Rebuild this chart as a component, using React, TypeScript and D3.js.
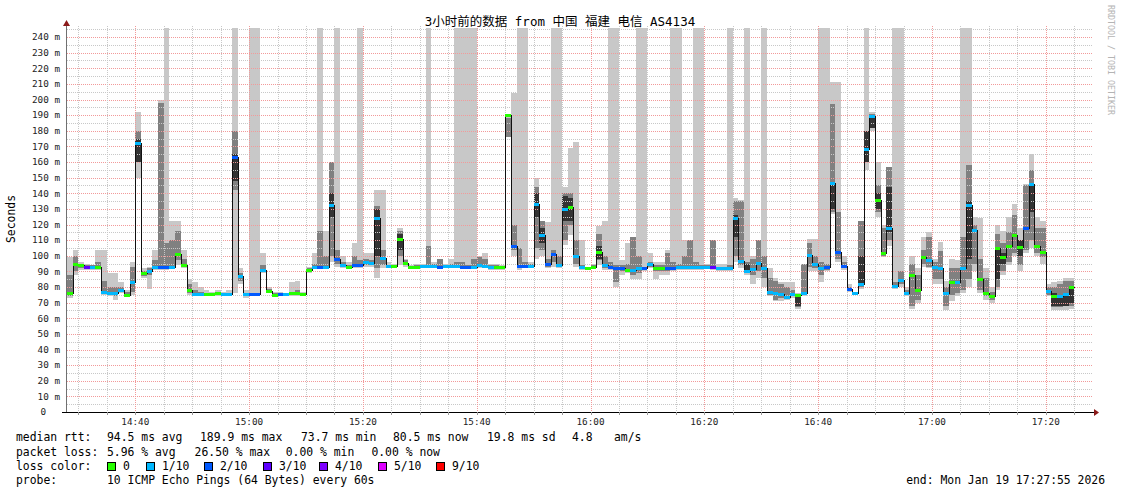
import React, { useEffect, useRef } from 'react';
import * as d3 from 'd3';

// one sample per minute, first sample at 14:28
const START = new Date(2026, 0, 19, 14, 28, 0);
const END = new Date(2026, 0, 19, 17, 28, 18);

// median rtt in ms
const medianRtt = [
  76, 95, 94, 93, 93, 93, 77, 76, 76, 78,
  75, 83, 172, 89, 90, 93, 93, 93, 93, 101,
  94, 78, 75.5, 75.5, 75.5, 75.5, 76, 75.5, 75.5, 163,
  87, 75.5, 75.5, 75.5, 91, 77.5, 75, 75.5, 75.5, 76,
  76, 75.5, 91, 93, 93, 93, 132.5, 97.7, 94, 93,
  94, 94, 96, 95.5, 124.4, 98.3, 93.4, 93.4, 110.5, 95.6,
  93, 93, 93.4, 93.4, 93.4, 93, 93.4, 93.4, 93.4, 93,
  93, 93, 93.8, 93.6, 93, 92.6, 92.6, 190, 106, 93.4,
  93.4, 93.4, 133, 113.2, 94.7, 101, 94.3, 129.7, 131.4, 100,
  92.6, 92.4, 93, 102.6, 94, 93, 92, 92, 91, 91,
  92, 92, 94.7, 92.4, 92, 92, 92, 93, 93, 93,
  93, 93, 93, 93, 92, 92, 92, 124, 96.6, 90.2,
  91.5, 95.6, 92.4, 77, 76, 75.5, 73.8, 75.5, 74.9, 76.4,
  100.5, 94.7, 92, 93, 146.8, 102.6, 93.4, 78.9, 76, 81.7,
  168.5, 189.4, 135.7, 102, 117.5, 80.8, 84.5, 76.4, 87.7, 78,
  99.4, 97.3, 93, 92.4, 76.4, 83.4, 83.4, 92.4, 132.7, 116.5,
  85, 76.4, 74.4, 105.2, 99, 106.5, 113.3, 105.8, 117.5, 146,
  106.5, 102.2, 77.6, 74.4, 74.2, 75.3, 80.2,
];

// lost pings out of 10
const lossCount = [
  0, 0, 0, 3, 1, 0, 1, 1, 1, 1,
  0, 1, 1, 0, 1, 1, 2, 2, 1, 0,
  0, 0, 1, 1, 0, 0, 0, 1, 1, 2,
  1, 1, 2, 2, 1, 0, 0, 2, 1, 0,
  0, 0, 0, 1, 2, 1, 1, 2, 1, 0,
  2, 2, 1, 1, 1, 1, 1, 0, 0, 0,
  0, 0, 1, 1, 1, 2, 1, 1, 1, 2,
  2, 1, 1, 1, 1, 0, 0, 0, 2, 2,
  2, 1, 1, 1, 2, 2, 1, 1, 0, 1,
  1, 0, 0, 0, 1, 2, 2, 2, 0, 1,
  1, 2, 1, 0, 0, 2, 2, 1, 1, 1,
  1, 1, 1, 3, 1, 1, 1, 1, 1, 1,
  1, 1, 1, 1, 1, 1, 1, 1, 0, 1,
  1, 1, 1, 2, 1, 2, 2, 2, 1, 1,
  1, 1, 0, 0, 1, 1, 1, 1, 0, 0,
  0, 1, 1, 1, 1, 0, 1, 1, 1, 1,
  0, 0, 0, 0, 0, 0, 0, 0, 2, 1,
  0, 0, 1, 0, 1, 1, 0,
];

// slowest / fastest ping (outer smoke)
const smokeHi = [
  99, 104, 96, 95, 94, 104, 104, 89, 89, 83,
  78, 96, 192, 92, 93, 104, 200, 250, 122, 122,
  104, 85, 83, 80, 78, 77, 78, 77, 78, 250,
  92, 78, 250, 250, 102, 80, 77, 77, 76, 83,
  84, 77, 93, 102, 250, 116, 160, 250, 100, 96,
  108, 250, 102, 102, 142, 142, 96, 95, 118, 98,
  94, 95, 95, 250, 96, 98, 95, 98, 250, 250,
  250, 250, 100, 102, 95, 95, 94, 191, 204, 250,
  250, 96, 150, 122, 121.5, 250, 250, 144, 169, 173,
  110, 93, 95, 119, 122, 250, 250, 97, 108, 112,
  250, 250, 102, 96, 96, 104, 250, 250, 110, 110,
  250, 250, 95, 110, 95, 95, 250, 137, 136, 250,
  100, 110, 250, 92, 86, 83, 83, 83, 76, 95,
  110.5, 110.5, 250, 250, 211, 211, 100, 82, 77, 122,
  250, 192, 160, 120, 157, 250, 250, 80, 100, 92,
  112, 115, 98, 109, 84, 98, 97, 250, 250, 125,
  124, 92, 80, 120, 116, 125, 133, 118, 146, 165,
  125, 122, 82, 83, 84, 86, 86,
];
const smokeLo = [
  73, 88, 91, 91, 91, 91, 75, 74, 72, 76,
  74, 75, 150, 86, 79, 91, 91, 91, 92, 94,
  92, 75, 74, 74, 74, 74, 74, 74, 74, 76,
  82, 73, 74, 74, 89, 76, 74, 74, 74, 74,
  74, 74, 89, 92, 92, 92, 96, 93, 92, 92,
  92, 92, 93, 93, 86, 92, 92, 92, 94, 93,
  92, 92, 92, 92, 92, 92, 92, 92, 92, 92,
  92, 92, 92, 92, 91, 91, 91, 176, 100, 91,
  92, 92, 98, 100, 92, 93, 92, 107, 113, 93,
  91, 91, 92, 94, 91, 91, 80, 88, 89, 85,
  85, 90, 92, 85, 88, 88, 90, 91, 91, 91,
  91, 91, 92, 91, 90, 90, 90, 96, 92, 88,
  82, 86, 80, 74, 71, 71, 72, 73, 66, 74,
  90, 90, 83, 90, 127, 96, 91, 77, 75, 79,
  155, 180, 125, 99, 106, 79, 80, 74, 66, 70,
  93, 92, 82, 82, 65, 71, 74, 76, 80, 90,
  76, 72, 70, 78, 88, 94, 100, 90, 102, 105,
  100, 95, 74, 65, 65, 65, 66,
];

// inner smoke band
const midHi = [
  88, 100, 95, 94, 94, 96, 84, 80, 80, 80,
  77, 93, 180, 90, 92, 97, 198, 108, 110, 116,
  98, 82, 78, 77, 76, 76, 77, 76, 76, 180,
  89, 76, 76, 76, 94, 79, 76, 76, 76, 77,
  78, 76, 92, 95, 116, 100, 160, 104, 96, 94,
  100, 97, 98, 97, 132, 104, 94, 94, 116, 97,
  93.5, 94, 94, 106, 95, 98, 94, 95, 96, 96,
  94, 98, 99, 98, 94, 94, 93, 188, 120, 105,
  96, 94.5, 144, 122, 98, 104, 100, 140, 140, 110,
  94, 93, 94, 114, 100, 96, 94, 94, 95, 112,
  100, 93, 96, 94, 94, 102, 96, 95, 100, 110,
  96, 94, 94, 110, 93, 93, 94, 135, 135, 96,
  98, 110, 100, 86, 84, 82, 80, 78, 75, 95,
  108, 100, 96, 95, 197, 128, 96, 80, 76.5, 122,
  178, 191, 145, 118, 157, 83, 90, 78, 95, 88,
  104, 112, 96, 103, 80, 92, 92, 112, 158, 120,
  98, 86, 77, 114, 108, 115, 126, 110, 145, 155,
  118, 118, 80, 80, 82, 84, 84,
];
const midLo = [
  74, 90, 92, 92, 92, 92, 76, 75, 74, 77,
  75, 77, 160, 87, 88, 92, 92, 92, 93, 97,
  93, 76, 75, 75, 75, 75, 75, 75, 75, 142,
  84, 74, 75, 75, 90, 77, 74, 75, 75, 75,
  75, 75, 90, 92, 92, 92, 100, 95, 93, 92,
  93, 93, 94, 94, 92, 94, 93, 93, 100, 94,
  92.5, 92.5, 93, 93, 93, 92.5, 93, 93, 93, 93,
  92.5, 92.5, 93, 93, 92, 92, 92, 176, 104, 92,
  93, 93, 105, 104, 93, 96, 93, 110, 120, 95,
  92, 92, 92.5, 97, 92, 92, 83, 90, 90, 88,
  89, 91, 93, 90, 90, 90, 91, 92, 92, 92,
  92, 92, 92.5, 92, 91, 91, 91, 100, 94, 89,
  88, 90, 86, 75, 72, 73, 73, 74, 67, 75,
  93, 92, 88, 91, 128, 98, 92, 78, 75.5, 80,
  160, 183, 128, 100, 110, 80, 82, 75, 68, 72,
  95, 93, 85, 85, 68, 75, 76, 78, 85, 95,
  78, 74, 72, 80, 90, 96, 102, 94, 104, 110,
  102, 99, 75, 67, 67, 68, 68,
];

// darkest smoke core: [minute index, hi, lo]
const coreBands: [number, number, number][] = [
  [12, 175, 160], [29, 165, 148], [46, 140, 125], [54, 130, 100], [58, 114, 104],
  [82, 140, 125], [83, 118, 108], [87, 138, 122], [88, 137, 122], [93, 106, 98],
  [117, 126, 112], [119, 95, 90], [128, 75, 68], [134, 146, 130], [139, 100, 82],
  [140, 180, 160], [141, 189, 182], [142, 140, 130], [144, 144, 115], [158, 135, 98],
  [163, 105, 85], [164, 102, 95], [167, 110, 100], [169, 146, 128], [173, 76, 68],
  [174, 75, 68], [175, 74, 68], [176, 80, 70],
];

const xTickLabels = ['14:40', '15:00', '15:20', '15:40', '16:00', '16:20', '16:40', '17:00', '17:20'];
const yTickValues = [0, 10, 20, 30, 40, 50, 60, 70, 80, 90, 100, 110, 120, 130, 140, 150, 160, 170, 180, 190, 200, 210, 220, 230, 240];

const lossColors = ['#26ff00', '#00b8ff', '#0059ff', '#5e00ff', '#7e00ff', '#dd00ff', '#dd00ff', '#dd00ff', '#dd00ff', '#ff0000', '#ff0000'];
const lossLegend = [
  { label: '0', color: '#26ff00' },
  { label: '1/10', color: '#00b8ff' },
  { label: '2/10', color: '#0059ff' },
  { label: '3/10', color: '#5e00ff' },
  { label: '4/10', color: '#7e00ff' },
  { label: '5/10', color: '#dd00ff' },
  { label: '9/10', color: '#ff0000' },
];

const rttStats = ['median rtt:', '94.5 ms avg', '189.9 ms max', '73.7 ms min', '80.5 ms now', '19.8 ms sd', '4.8', 'am/s'];
const lossStats = ['packet loss:', '5.96 % avg', '26.50 % max', '0.00 % min', '0.00 % now'];

const App: React.FC = () => {
  const svgRef = useRef<SVGSVGElement>(null);

  useEffect(() => {
    if (!svgRef.current) return;
    const svg = d3.select(svgRef.current);
    svg.selectAll('*').remove();

    const mono = "'DejaVu Sans Mono', 'Noto Sans CJK SC', monospace";
    const left = 67, right = 1093, bottom = 412, top = 28;

    const x = d3.scaleTime().domain([START, END]).range([left, right]);
    const y = d3.scaleLinear().domain([0, 240]).range([bottom, 37]);
    const yc = (v: number) => Math.max(top, y(v));
    const n = medianRtt.length;
    const steps = d3.range(n);
    const sx = (i: number) => Math.round(x(d3.timeMinute.offset(START, i)));

    svg.append('rect').attr('width', 1121).attr('height', 494).attr('fill', '#fff');

    // smoke
    const smoke = svg.append('g').attr('shape-rendering', 'crispEdges');
    const band = (hi: number[], lo: number[], fill: string) => {
      smoke.append('g').selectAll('rect').data(steps).join('rect')
        .attr('x', i => sx(i))
        .attr('width', i => sx(i + 1) - sx(i))
        .attr('y', i => yc(hi[i]))
        .attr('height', i => Math.max(1, y(lo[i]) - yc(hi[i])))
        .attr('fill', fill);
    };
    band(smokeHi, smokeLo, '#c8c8c8');
    band(midHi, midLo, '#808080');
    smoke.append('g').selectAll('rect').data(coreBands).join('rect')
      .attr('x', d => sx(d[0]))
      .attr('width', d => sx(d[0] + 1) - sx(d[0]))
      .attr('y', d => y(d[1]))
      .attr('height', d => y(d[2]) - y(d[1]))
      .attr('fill', '#333');

    // grid, drawn over the smoke
    const grid = svg.append('g').attr('shape-rendering', 'crispEdges').attr('stroke-dasharray', '1,1');
    d3.range(5, 250, 5).forEach(v => {
      const yy = Math.round(y(v)) + 0.5;
      if (yy < top) return;
      grid.append('line')
        .attr('x1', left).attr('x2', right).attr('y1', yy).attr('y2', yy)
        .attr('stroke', v % 10 === 0 ? '#f29a9a' : '#c8c8c8');
    });
    d3.timeMinute.every(5)!.range(START, END).forEach(t => {
      const xx = Math.round(x(t)) + 0.5;
      if (xx <= left + 1) return;
      grid.append('line')
        .attr('x1', xx).attr('x2', xx).attr('y1', top - 2).attr('y2', bottom)
        .attr('stroke', t.getMinutes() % 20 === 0 ? '#f29a9a' : '#c8c8c8');
    });

    // median line and loss colour
    const line = d3.line<number>()
      .x(i => sx(i) + 0.5)
      .y(i => Math.round(y(medianRtt[Math.min(i, n - 1)])) + 0.5)
      .curve(d3.curveStepAfter);
    svg.append('path')
      .datum(d3.range(n + 1))
      .attr('d', line)
      .attr('fill', 'none')
      .attr('stroke', '#111')
      .attr('stroke-width', 1)
      .attr('shape-rendering', 'crispEdges');
    svg.append('g').attr('shape-rendering', 'crispEdges')
      .selectAll('rect').data(steps).join('rect')
      .attr('x', i => sx(i))
      .attr('width', i => sx(i + 1) - sx(i))
      .attr('y', i => Math.round(y(medianRtt[i])) - 1)
      .attr('height', 3)
      .attr('fill', i => lossColors[lossCount[i]]);

    // axes
    const axes = svg.append('g').attr('shape-rendering', 'crispEdges');
    axes.append('line').attr('x1', 66.5).attr('x2', 66.5).attr('y1', bottom).attr('y2', 24)
      .attr('stroke', '#707070');
    axes.append('line').attr('x1', 62).attr('x2', right + 1).attr('y1', bottom + 0.5).attr('y2', bottom + 0.5)
      .attr('stroke', '#000');
    svg.append('path').attr('d', 'M63,26 L66.5,20 L70,26 Z').attr('fill', '#8b1a1a');
    svg.append('path').attr('d', `M${right + 1},409 L${right + 6},412.5 L${right + 1},416 Z`).attr('fill', '#8b1a1a');

    d3.timeMinute.every(5)!.range(START, END).forEach(t => {
      const xx = Math.round(x(t)) + 0.5;
      axes.append('line').attr('x1', xx).attr('x2', xx).attr('y1', bottom).attr('y2', bottom + 3)
        .attr('stroke', '#999');
    });

    const label = (txt: string, xx: number, yy: number, size: number, anchor = 'start', fill = '#000') =>
      svg.append('text')
        .attr('x', xx).attr('y', yy)
        .attr('font-family', mono)
        .attr('font-size', size)
        .attr('text-anchor', anchor)
        .attr('fill', fill)
        .style('white-space', 'pre')
        .text(txt);

    yTickValues.forEach(v => {
      if (v === 0) label('0', 46, y(v) + 3.3, 9.3, 'end', '#222');
      else label(`${v} m`, 60, y(v) + 3.3, 9.3, 'end', '#222');
    });

    const parseHM = d3.timeParse('%Y-%m-%d %H:%M');
    xTickLabels.forEach(s => {
      const t = parseHM(`2026-01-19 ${s}`)!;
      label(s, x(t), 425, 9.3, 'middle', '#222');
    });

    // title and side texts
    label('3小时前的数据 from 中国 福建 电信 AS4134', 560, 26, 12.5, 'middle', '#000');
    svg.append('text')
      .attr('transform', 'translate(15,219) rotate(-90)')
      .attr('font-family', mono).attr('font-size', 11.4)
      .attr('text-anchor', 'middle')
      .text('Seconds');
    svg.append('text')
      .attr('transform', 'translate(1108,5) rotate(90)')
      .attr('font-family', mono).attr('font-size', 8.3)
      .attr('fill', '#b4b4b4')
      .text('RRDTOOL / TOBI OETIKER');

    // legend block
    const fs = 11.4;
    const rttX = [16, 107, 200, 301, 393, 487, 572, 614];
    rttStats.forEach((s, i) => label(s, rttX[i], 441, fs));
    const lossX = [16, 107, 194.6, 285.7, 371.4];
    lossStats.forEach((s, i) => label(s, lossX[i], 456, fs));

    label('loss color:', 16, 470, fs);
    const swatchX = [107, 146.4, 204.3, 262.5, 319, 377.5, 435.7];
    lossLegend.forEach((d, i) => {
      svg.append('rect')
        .attr('x', Math.round(swatchX[i]) + 0.5).attr('y', 462.5)
        .attr('width', 8).attr('height', 8)
        .attr('fill', d.color).attr('stroke', '#000');
      label(d.label, Math.round(swatchX[i]) + 16, 470, fs);
    });

    label('probe:', 16, 484, fs);
    label('10 ICMP Echo Pings (64 Bytes) every 60s', 107, 484, fs);
    label('end: Mon Jan 19 17:27:55 2026', 1105, 484, fs, 'end');
  }, []);

  return (
    <svg
      ref={svgRef}
      width={1121}
      height={494}
      style={{ position: 'absolute', left: 0, top: 0, display: 'block', background: '#fff' }}
    />
  );
};

export default App;
